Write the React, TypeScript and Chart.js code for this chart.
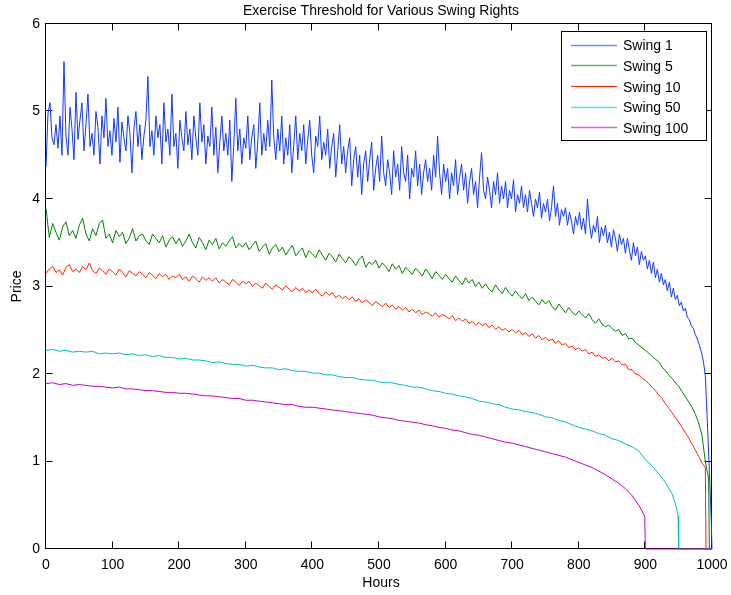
import React, { useEffect, useRef } from "react";
import { Chart, registerables } from "chart.js";

Chart.register(...registerables);

const chartTitle = "Exercise Threshold for Various Swing Rights";
const xTitle = "Hours";
const yTitle = "Price";
const seriesNames = ["Swing 1", "Swing 5", "Swing 10", "Swing 50", "Swing 100"];
const seriesColors = ["#1438ff", "#008000", "#ff2400", "#00bfbf", "#bf00bf"];
const xTicks = [0, 100, 200, 300, 400, 500, 600, 700, 800, 900, 1000];
const yTicks = [0, 1, 2, 3, 4, 5, 6];

// Swing 1: every 3 hours from 0 to 996
const swing1 = [
  4.37, 4.98, 5.1, 4.7, 4.62, 4.85, 4.58, 4.95, 4.5, 5.57,
  4.72, 4.5, 5.05, 4.8, 4.45, 5.22, 4.68, 4.9, 5.1, 4.55,
  4.85, 5.2, 4.6, 4.75, 4.5, 5.0, 4.82, 4.4, 4.95, 4.7,
  5.15, 4.6, 4.78, 4.5, 4.92, 4.65, 5.05, 4.42, 4.88, 4.7,
  4.55, 4.95, 4.75, 4.3, 4.8, 5.0, 4.6, 4.85, 4.45, 4.72,
  4.9, 5.4, 4.6, 4.78, 4.5, 4.95, 4.7, 4.85, 4.4, 5.1,
  4.65, 4.8, 4.5, 5.2, 4.6, 4.75, 4.35, 4.9, 4.7, 4.55,
  5.0, 4.62, 4.8, 4.45, 4.95, 4.7, 4.5, 5.1, 4.65, 4.85,
  4.4, 4.72, 4.6, 5.05, 4.5, 4.82, 4.3, 4.65, 4.95, 4.55,
  4.75, 4.5, 4.9, 4.2, 4.62, 5.15, 4.55, 4.8, 4.4, 4.7,
  4.58, 4.95, 4.45, 4.7, 4.85, 4.35, 4.65, 5.1, 4.5, 4.75,
  4.55, 4.9, 4.6, 5.36, 4.7, 4.45, 4.8, 4.55, 4.95, 4.4,
  4.7, 4.5, 4.85, 4.3, 4.62, 4.95, 4.45, 4.75, 4.55, 4.85,
  4.4, 4.68, 4.9, 4.5, 4.3, 4.72, 4.6, 4.95, 4.45, 4.65,
  4.5, 4.8, 4.35, 4.6, 4.75, 4.25, 4.55, 4.85, 4.4, 4.6,
  4.3, 4.55, 4.7, 4.15, 4.45, 4.6, 4.25, 4.5, 4.05, 4.4,
  4.55, 4.2, 4.45, 4.65, 4.1, 4.35, 4.5, 4.2, 4.72, 4.3,
  4.15, 4.45, 4.3, 4.05, 4.55, 4.25, 4.4, 4.1, 4.6, 4.3,
  4.2, 4.5, 4.0, 4.35, 4.25, 4.55, 4.15, 4.4, 4.05, 4.3,
  4.45, 4.2, 4.35, 4.1, 4.5, 4.25, 4.72, 4.3, 4.05, 4.4,
  4.2, 4.35, 4.0, 4.3, 4.15, 4.45, 4.05, 4.25, 4.4, 4.1,
  4.3, 3.95, 4.2, 4.35, 4.05, 4.2, 3.9, 4.25, 4.53, 4.1,
  4.0, 4.25, 4.1, 3.9, 4.2, 4.05, 4.3, 3.95, 4.15, 4.0,
  4.2, 3.9, 4.1, 4.0, 4.22, 3.85, 4.05, 3.95, 4.15, 3.9,
  4.05, 3.85, 4.1, 3.95, 3.8, 4.0, 3.9, 4.08, 3.78, 3.95,
  3.85, 4.0, 3.75, 3.9, 4.15, 3.8, 3.95, 3.7, 3.88, 3.8,
  3.9, 3.7, 3.85, 3.75, 3.6, 3.8, 3.7, 3.85, 3.65, 3.78,
  3.6, 4.0, 3.72, 3.55, 3.7, 3.62, 3.8, 3.5, 3.68, 3.58,
  3.7, 3.5, 3.62, 3.45, 3.65, 3.55, 3.4, 3.6, 3.48, 3.55,
  3.38, 3.55, 3.42, 3.3, 3.5, 3.35, 3.45, 3.25, 3.4, 3.3,
  3.35, 3.2, 3.3, 3.15, 3.28, 3.1, 3.2, 3.05, 3.15, 3.02,
  3.08, 2.95, 3.05, 2.88, 2.98, 2.85, 2.9, 2.78, 2.82, 2.72,
  2.75, 2.65, 2.62, 2.55, 2.52, 2.45, 2.4, 2.33, 2.25, 2.15,
  1.98, 1.45, 0.9,
];
const swing1TailHours = [999, 1000];
const swing1Tail = [0.3, 0];

// Swing 5: every 5 hours from 0 to 995
const swing5 = [
  3.89, 3.56, 3.72, 3.62, 3.53, 3.68, 3.74, 3.58, 3.64, 3.55,
  3.7, 3.78, 3.6, 3.52, 3.66, 3.58, 3.72, 3.76, 3.55, 3.6,
  3.5, 3.64, 3.57, 3.62, 3.49, 3.55, 3.66, 3.52, 3.58, 3.6,
  3.52, 3.48, 3.6, 3.55, 3.5, 3.58, 3.45, 3.53, 3.57, 3.49,
  3.55, 3.46, 3.52, 3.6, 3.5, 3.44, 3.56, 3.5, 3.42, 3.53,
  3.48, 3.55, 3.43, 3.5, 3.46, 3.52, 3.57, 3.44, 3.49, 3.45,
  3.5, 3.42, 3.47, 3.52, 3.4, 3.45, 3.49, 3.37, 3.44, 3.48,
  3.4, 3.45, 3.36, 3.42, 3.47, 3.35, 3.4, 3.44, 3.33, 3.41,
  3.37, 3.33, 3.42, 3.36, 3.3, 3.38, 3.34, 3.28, 3.37, 3.32,
  3.27, 3.34, 3.3, 3.24, 3.31, 3.35, 3.22, 3.28, 3.25, 3.3,
  3.21, 3.27, 3.23, 3.17, 3.26, 3.2, 3.24, 3.15, 3.22, 3.18,
  3.14, 3.21, 3.17, 3.12, 3.2, 3.15, 3.09, 3.17, 3.13, 3.08,
  3.14, 3.09, 3.05, 3.12, 3.07, 3.02, 3.1, 3.04, 3.08, 3.0,
  3.05, 2.98, 3.03, 2.97, 2.94, 3.02, 2.96, 2.92, 2.99, 2.93,
  2.89, 2.95, 2.9, 2.86, 2.92, 2.84, 2.88, 2.83, 2.79, 2.85,
  2.8, 2.84, 2.77, 2.73, 2.8, 2.75, 2.7, 2.76, 2.71, 2.67,
  2.72, 2.68, 2.64, 2.69, 2.62, 2.58, 2.63, 2.57, 2.54, 2.56,
  2.52, 2.49, 2.51, 2.44, 2.46, 2.4, 2.41, 2.36, 2.33, 2.3,
  2.27, 2.24, 2.2, 2.17, 2.14, 2.08, 2.04, 1.99, 1.95, 1.9,
  1.86, 1.8, 1.74, 1.68, 1.62, 1.54, 1.44, 1.3, 1.0, 0.8,
];
const swing5TailHours = [996, 1000];
const swing5Tail = [0, 0];

// Swing 10: every 5 hours from 0 to 990
const swing10 = [
  3.15, 3.2, 3.23, 3.16, 3.19, 3.13, 3.22, 3.25, 3.17, 3.2,
  3.16, 3.23, 3.19, 3.27, 3.18, 3.15, 3.21, 3.18, 3.14, 3.2,
  3.17, 3.13, 3.2, 3.16, 3.11, 3.18, 3.15, 3.12, 3.17, 3.14,
  3.1, 3.16, 3.13, 3.09, 3.15, 3.11, 3.14, 3.08, 3.12, 3.1,
  3.14, 3.08, 3.11, 3.06, 3.12, 3.09, 3.05, 3.11, 3.07, 3.1,
  3.06, 3.1, 3.04, 3.08, 3.05, 3.02, 3.08, 3.05, 3.01, 3.06,
  3.03, 3.06, 3.0, 3.04, 3.01, 2.98, 3.04, 3.0, 2.97, 3.02,
  2.99, 2.96, 3.01, 2.97, 2.94, 2.99, 2.95, 2.98, 2.93, 2.96,
  2.93, 2.97, 2.92, 2.89, 2.94, 2.9, 2.93, 2.87, 2.9, 2.86,
  2.89, 2.85, 2.88, 2.83, 2.86, 2.81, 2.85, 2.82, 2.78, 2.83,
  2.8, 2.77, 2.81, 2.76, 2.79, 2.74, 2.77, 2.73, 2.76, 2.71,
  2.74, 2.7, 2.73, 2.68, 2.71, 2.69, 2.66, 2.7, 2.65, 2.68,
  2.66, 2.63, 2.67, 2.61, 2.64, 2.6, 2.63, 2.58, 2.6, 2.56,
  2.59, 2.55, 2.58, 2.53, 2.56, 2.51, 2.54, 2.5, 2.52, 2.48,
  2.51, 2.47, 2.5, 2.45, 2.47, 2.43, 2.46, 2.41, 2.44, 2.39,
  2.42, 2.38, 2.4, 2.35, 2.38, 2.33, 2.35, 2.3, 2.32, 2.28,
  2.3, 2.26, 2.28, 2.23, 2.25, 2.2, 2.22, 2.18, 2.19, 2.15,
  2.18, 2.14, 2.15, 2.1, 2.11, 2.05, 2.05, 2.0, 1.99, 1.95,
  1.93, 1.89, 1.85, 1.81, 1.76, 1.72, 1.66, 1.61, 1.56, 1.5,
  1.45, 1.39, 1.33, 1.27, 1.2, 1.13, 1.06, 0.98, 0.93,
];
const swing10TailHours = [991, 1000];
const swing10Tail = [0, 0];

// Swing 50: every 10 hours from 0 to 940
const swing50 = [
  2.27, 2.28, 2.26, 2.27, 2.25, 2.26, 2.25, 2.26, 2.23, 2.24,
  2.23, 2.24, 2.22, 2.23, 2.21, 2.22, 2.2, 2.21, 2.19, 2.19,
  2.17, 2.18, 2.16, 2.16, 2.15, 2.13, 2.14, 2.12, 2.11, 2.11,
  2.09, 2.1, 2.08, 2.07, 2.07, 2.05, 2.06, 2.04, 2.03, 2.03,
  2.01, 2.01, 1.99, 1.99, 1.97, 1.96, 1.96, 1.94, 1.93, 1.93,
  1.91, 1.9, 1.9, 1.88, 1.87, 1.85, 1.85, 1.83, 1.81, 1.8,
  1.78, 1.77, 1.75, 1.74, 1.72, 1.69, 1.68, 1.66, 1.65, 1.62,
  1.6, 1.59, 1.57, 1.56, 1.54, 1.51, 1.5, 1.47, 1.45, 1.42,
  1.39, 1.37, 1.35, 1.32, 1.3, 1.26, 1.24, 1.2, 1.17, 1.12,
  1.02, 0.95, 0.86, 0.76, 0.63,
];
const swing50TailHours = [945, 949, 950, 1000];
const swing50Tail = [0.52, 0.38, 0, 0];

// Swing 100: every 10 hours from 0 to 890
const swing100 = [
  1.89, 1.9, 1.88, 1.89, 1.87, 1.88, 1.87, 1.86, 1.86, 1.85,
  1.84, 1.85, 1.83, 1.83, 1.82, 1.81, 1.81, 1.8, 1.79, 1.79,
  1.78, 1.78, 1.77, 1.76, 1.75, 1.75, 1.74, 1.73, 1.72, 1.72,
  1.7, 1.7, 1.69, 1.68, 1.67, 1.66, 1.65, 1.65, 1.63, 1.62,
  1.62, 1.61, 1.6, 1.59, 1.58, 1.57, 1.56, 1.55, 1.54, 1.53,
  1.51, 1.5, 1.49, 1.47, 1.46, 1.45, 1.44, 1.42, 1.41, 1.39,
  1.38, 1.36, 1.35, 1.33, 1.31, 1.3, 1.28, 1.26, 1.24, 1.22,
  1.21, 1.19, 1.17, 1.15, 1.13, 1.11, 1.09, 1.07, 1.05, 1.02,
  0.99, 0.96, 0.93, 0.89, 0.85, 0.8, 0.75, 0.69, 0.61, 0.5,
];
const swing100TailHours = [896, 899, 900, 1000];
const swing100Tail = [0.42, 0.37, 0, 0];

const hourGrid = (step: number, count: number) => {
  const out: number[] = [];
  for (let i = 0; i < count; i++) out.push(i * step);
  return out;
};

const toPoints = (hours: number[], values: number[]) =>
  hours.map((h, i) => ({ x: h, y: values[i] }));

const seriesPoints = [
  toPoints([...hourGrid(3, swing1.length), ...swing1TailHours], [...swing1, ...swing1Tail]),
  toPoints([...hourGrid(5, swing5.length), ...swing5TailHours], [...swing5, ...swing5Tail]),
  toPoints([...hourGrid(5, swing10.length), ...swing10TailHours], [...swing10, ...swing10Tail]),
  toPoints([...hourGrid(10, swing50.length), ...swing50TailHours], [...swing50, ...swing50Tail]),
  toPoints([...hourGrid(10, swing100.length), ...swing100TailHours], [...swing100, ...swing100Tail]),
];

const FONT = '"Liberation Sans", Arial, Helvetica, sans-serif';

const framePlugin = {
  id: "matlabFrame",
  beforeDatasetsDraw(chart: any) {
    const { ctx, chartArea: a, scales } = chart;
    const xs = scales.x;
    const ys = scales.y;
    ctx.save();
    ctx.strokeStyle = "#000";
    ctx.lineWidth = 1;
    const L = Math.round(a.left) - 0.5;
    const R = Math.round(a.right) - 0.5;
    const T = Math.round(a.top) - 0.5;
    const B = Math.round(a.bottom) - 0.5;
    ctx.strokeRect(L, T, R - L, B - T);
    const tl = 7;
    ctx.beginPath();
    xTicks.forEach((v) => {
      const px = Math.round(xs.getPixelForValue(v)) - 0.5;
      ctx.moveTo(px, B);
      ctx.lineTo(px, B - tl);
      ctx.moveTo(px, T);
      ctx.lineTo(px, T + tl);
    });
    yTicks.forEach((v) => {
      const py = Math.round(ys.getPixelForValue(v)) - 0.5;
      ctx.moveTo(L, py);
      ctx.lineTo(L + tl, py);
      ctx.moveTo(R, py);
      ctx.lineTo(R - tl, py);
    });
    ctx.stroke();

    // tick labels
    ctx.fillStyle = "#000";
    ctx.font = `14px ${FONT}`;
    ctx.textAlign = "center";
    ctx.textBaseline = "top";
    xTicks.forEach((v) => {
      ctx.fillText(String(v), xs.getPixelForValue(v), a.bottom + 9);
    });
    ctx.textAlign = "right";
    ctx.textBaseline = "middle";
    yTicks.forEach((v) => {
      ctx.fillText(String(v), a.left - 6, ys.getPixelForValue(v));
    });
    ctx.restore();
  },
  afterDraw(chart: any) {
    const { ctx, chartArea: a } = chart;
    ctx.save();
    ctx.fillStyle = "#000";
    ctx.font = `14px ${FONT}`;
    ctx.textAlign = "center";
    ctx.textBaseline = "middle";
    const cx = (a.left + a.right) / 2 + 2;
    ctx.fillText(chartTitle, cx, 11);
    ctx.fillText(xTitle, cx, 583);
    ctx.save();
    ctx.translate(17, (a.top + a.bottom) / 2);
    ctx.rotate(-Math.PI / 2);
    ctx.fillText(yTitle, 0, 0);
    ctx.restore();

    // legend
    const bx = 561.5, by = 31.5, bw = 145, bh = 109;
    ctx.fillStyle = "#fff";
    ctx.fillRect(bx, by, bw, bh);
    ctx.strokeStyle = "#000";
    ctx.lineWidth = 1;
    ctx.strokeRect(bx, by, bw, bh);
    ctx.textAlign = "left";
    seriesNames.forEach((name, i) => {
      const y = 44.5 + i * 20.7;
      ctx.strokeStyle = seriesColors[i];
      ctx.lineWidth = i === 2 ? 1 : 1.6;
      ctx.globalAlpha = i === 2 ? 1 : 0.6;
      ctx.beginPath();
      ctx.moveTo(571, Math.round(y) + 0.5);
      ctx.lineTo(617, Math.round(y) + 0.5);
      ctx.stroke();
      ctx.globalAlpha = 1;
      ctx.fillStyle = "#000";
      ctx.fillText(name, 623, y + 2);
    });
    ctx.restore();
  },
};

export default function App() {
  const ref = useRef<HTMLCanvasElement | null>(null);
  useEffect(() => {
    if (!ref.current) return;
    const chart = new Chart(ref.current, {
      type: "line",
      data: {
        datasets: seriesNames.map((name, i) => ({
          label: name,
          data: seriesPoints[i],
          borderColor: seriesColors[i],
          backgroundColor: seriesColors[i],
          borderWidth: 1,
          pointRadius: 0,
          tension: 0,
          fill: false,
          clip: false as any,
          order: seriesNames.length - i,
        })),
      },
      options: {
        animation: false,
        responsive: false,
        maintainAspectRatio: false,
        devicePixelRatio: 1,
        layout: { padding: { left: 0, top: 24, right: 19, bottom: 0 } },
        plugins: {
          legend: { display: false },
          title: { display: false },
          tooltip: { enabled: false },
        },
        scales: {
          x: {
            type: "linear",
            min: 0,
            max: 1000,
            afterFit: (s: any) => {
              s.height = 46;
              s.paddingLeft = 0;
              s.paddingRight = 0;
            },
            grid: { display: false, drawTicks: false },
            border: { display: false },
            ticks: { display: false, stepSize: 100 },
          },
          y: {
            type: "linear",
            min: 0,
            max: 6,
            afterFit: (s: any) => {
              s.width = 46;
              s.paddingTop = 0;
              s.paddingBottom = 0;
            },
            grid: { display: false, drawTicks: false },
            border: { display: false },
            ticks: { display: false, stepSize: 1 },
          },
        },
      },
      plugins: [framePlugin],
    });
    return () => chart.destroy();
  }, []);
  return (
    <div style={{ position: "absolute", left: 0, top: 0, width: 731, height: 595, background: "#fff" }}>
      <canvas ref={ref} width={731} height={595} style={{ width: 731, height: 595, display: "block" }} />
    </div>
  );
}
